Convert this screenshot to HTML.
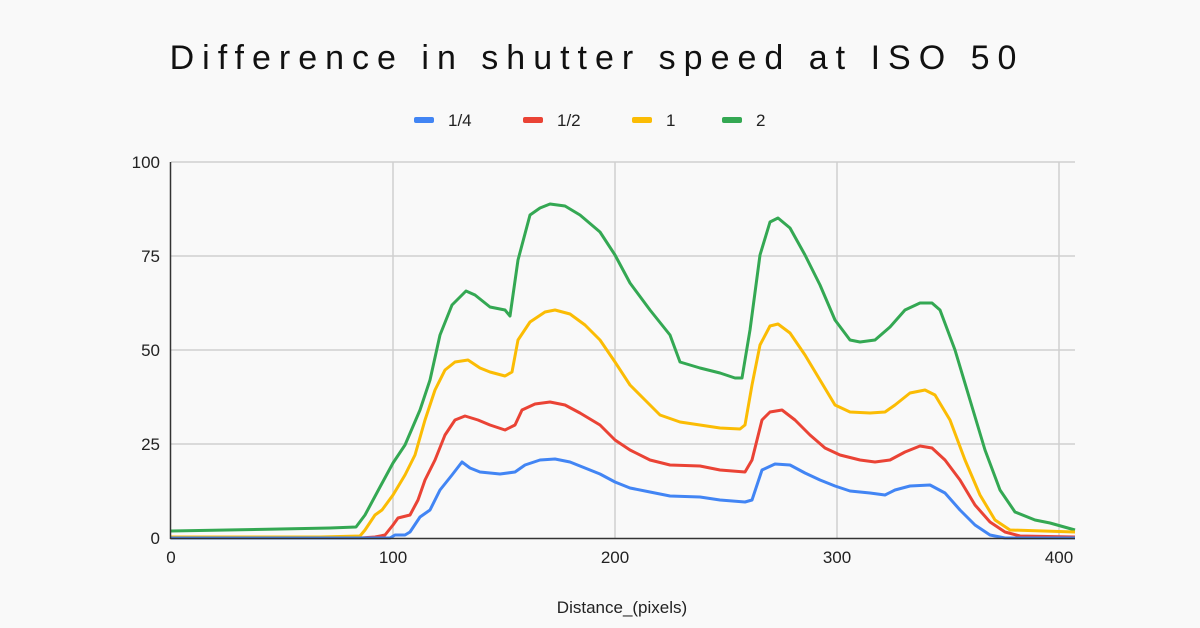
<!DOCTYPE html>
<html><head><meta charset="utf-8"><style>
html,body{margin:0;padding:0;background:#f9f9f9;}
svg{display:block;font-family:"Liberation Sans",Arial,sans-serif;}
</style></head><body>
<svg width="1200" height="628" viewBox="0 0 1200 628" xmlns="http://www.w3.org/2000/svg">
<rect width="1200" height="628" fill="#f9f9f9"/>
<text x="597" y="69" text-anchor="middle" font-size="34" letter-spacing="8" fill="#111">Difference in shutter speed at ISO 50</text>
<g font-size="17" fill="#222">
<rect x="414" y="117" width="20" height="6" rx="2" fill="#4285f4"/><text x="448" y="126">1/4</text>
<rect x="523" y="117" width="20" height="6" rx="2" fill="#ea4335"/><text x="557" y="126">1/2</text>
<rect x="632" y="117" width="20" height="6" rx="2" fill="#fbbc04"/><text x="666" y="126">1</text>
<rect x="722" y="117" width="20" height="6" rx="2" fill="#34a853"/><text x="756" y="126">2</text>
</g>
<g stroke="#d0d0d0" stroke-width="1.5">
<line x1="171" y1="162" x2="1075" y2="162"/><line x1="171" y1="256" x2="1075" y2="256"/>
<line x1="171" y1="350" x2="1075" y2="350"/><line x1="171" y1="444" x2="1075" y2="444"/>
<line x1="393" y1="162" x2="393" y2="538"/><line x1="615" y1="162" x2="615" y2="538"/>
<line x1="837" y1="162" x2="837" y2="538"/><line x1="1059" y1="162" x2="1059" y2="538"/>
</g>
<g font-size="17" fill="#222" text-anchor="end">
<text x="160" y="168">100</text><text x="160" y="262">75</text><text x="160" y="356">50</text><text x="160" y="450">25</text><text x="160" y="544">0</text>
</g>
<g font-size="17" fill="#222" text-anchor="middle">
<text x="171" y="563">0</text><text x="393" y="563">100</text><text x="615" y="563">200</text><text x="837" y="563">300</text><text x="1059" y="563">400</text>
<text x="622" y="613">Distance_(pixels)</text>
</g>
<g fill="none" stroke-width="3" stroke-linejoin="round">
<polyline stroke="#34a853" points="171,531 280,529 330,528 356,527 365,515 380,487 393,463 405,445 420,410 430,380 440,335 452,305 466,291 475,295 490,307 505,310 510,316 518,260 530,215 540,208 550,204 565,206 580,215 600,232 615,255 630,283 650,310 670,335 680,362 700,368 720,373 735,378 742,378 750,330 760,255 770,222 778,218 790,228 805,255 820,285 835,320 850,340 860,342 875,340 890,327 905,310 920,303 932,303 940,310 955,350 970,400 985,450 1000,490 1015,512 1035,520 1050,523 1075,530"/>
<polyline stroke="#fbbc04" points="171,537 320,537 360,536 365,530 375,515 382,510 393,495 405,475 415,455 425,420 435,390 445,370 455,362 468,360 480,368 490,372 505,376 512,372 518,340 530,322 545,312 555,310 570,314 585,325 600,340 615,362 630,385 645,400 660,415 680,422 700,425 720,428 740,429 745,425 752,385 760,345 770,326 778,324 790,333 805,355 820,380 835,405 850,412 870,413 885,412 895,405 910,393 925,390 935,395 950,420 965,460 980,495 995,520 1010,530 1075,532"/>
<polyline stroke="#ea4335" points="171,538 360,538 375,537 385,535 393,525 398,518 410,515 418,500 425,480 435,460 445,435 455,420 465,416 478,420 490,425 505,430 515,425 522,410 535,404 550,402 565,405 580,413 600,425 615,440 630,450 650,460 670,465 700,466 720,470 745,472 752,460 762,420 770,412 782,410 795,420 810,435 825,448 840,455 860,460 875,462 890,460 905,452 920,446 932,448 945,460 960,480 975,505 990,522 1005,532 1020,536 1075,537"/>
<polyline stroke="#4285f4" points="171,538 390,538 395,535 405,535 410,532 420,517 430,510 440,490 452,475 462,462 470,468 480,472 500,474 515,472 525,465 540,460 555,459 570,462 585,468 600,474 615,482 630,488 650,492 670,496 700,497 720,500 745,502 752,500 762,470 775,464 790,465 805,473 820,480 835,486 850,491 870,493 885,495 895,490 910,486 930,485 945,493 960,510 975,525 990,535 1005,538 1075,538"/>
</g>
<line x1="170.5" y1="162" x2="170.5" y2="539" stroke="#333" stroke-width="1.5"/>
<line x1="170" y1="538.5" x2="1075" y2="538.5" stroke="#333" stroke-width="1.5"/>
</svg>
</body></html>
